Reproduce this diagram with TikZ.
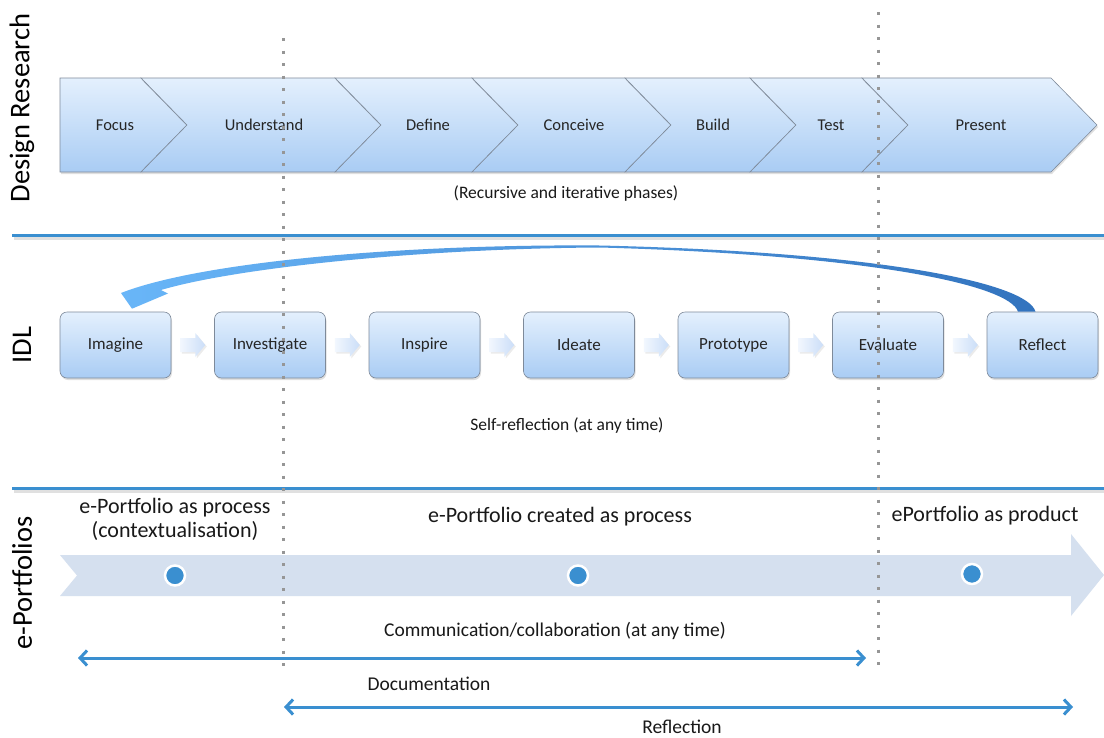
\documentclass[tikz,border=0pt]{standalone}
\usepackage{fontspec}
\setmainfont{Carlito}
\usetikzlibrary{arrows.meta,calc,shadows}
\definecolor{sepblue}{RGB}{58,143,208}
\definecolor{chevtop}{RGB}{228,240,253}
\definecolor{chevbot}{RGB}{169,204,244}
\definecolor{chevline}{RGB}{126,138,154}
\definecolor{bandcol}{RGB}{213,224,239}
\definecolor{dotgray}{RGB}{150,150,150}
\definecolor{curveL}{RGB}{105,182,248}
\definecolor{curveR}{RGB}{50,115,190}
\definecolor{arrL}{RGB}{242,247,254}
\definecolor{arrR}{RGB}{203,222,248}
\tikzset{
  chev/.style={draw=chevline, line width=0.6pt, top color=chevtop, bottom color=chevbot,
    drop shadow={opacity=0.25, shadow xshift=1pt, shadow yshift=-2pt}},
  chevtext/.style={font=\fontsize{16.5}{19}\selectfont, text=black!85},
  idlbox/.style={draw=chevline, line width=0.6pt, rounded corners=7pt, top color=chevtop, bottom color=chevbot,
    minimum width=111pt, minimum height=66pt, inner sep=0pt, font=\fontsize{17}{20}\selectfont, text=black!85,
    drop shadow={opacity=0.25, shadow xshift=1pt, shadow yshift=-2pt}},
  smallarr/.pic={
    \fill[black, opacity=0.08] (-11,-5.5) -- (4,-5.5) -- (4,-10.5) -- (14,1.5) -- (4,13.5) -- (4,8.5) -- (-11,8.5) -- cycle;
    \shade[left color=arrL, right color=arrR] (-12.5,-7) -- (2.5,-7) -- (2.5,-12) -- (12.5,0) -- (2.5,12) -- (2.5,7) -- (-12.5,7) -- cycle;
  },
  sepline/.style={draw=sepblue, line width=3pt},
  sepshadow/.style={draw=black, opacity=0.12, line width=3pt},
  sidelabel/.style={rotate=90, font=\fontsize{28.5}{32}\selectfont, text=black},
  captext/.style={font=\fontsize{17.5}{20}\selectfont, text=black!90},
  bigtext/.style={font=\fontsize{22}{26}\selectfont, text=black!90, align=center},
  midtext/.style={font=\fontsize{19.5}{23}\selectfont, text=black!90},
  dottedline/.style={draw=dotgray, line width=3pt, dash pattern=on 3pt off 9.5pt},
  spanarrow/.style={draw=sepblue, line width=3pt, {Straight Barb[length=7pt,width=15pt]}-{Straight Barb[length=7pt,width=15pt]}},
  milestone/.style={circle, fill=sepblue, draw=white, line width=2.5pt, minimum size=20pt, inner sep=0pt},
}
\begin{document}
\begin{tikzpicture}[x=1pt,y=-1pt]
\useasboundingbox (0,0) rectangle (1104,737);
\fill[white] (0,0) rectangle (1104,737);

% side labels
\node[sidelabel] (lDR) at (22,108) {Design Research};
\node[sidelabel] (lIDL) at (22,345) {IDL};
\node[sidelabel] (lEP) at (22,583) {e-Portfolios};

% separators
\draw[sepshadow] (14,238) -- (1104,238);
\draw[sepline] (12,235) -- (1104,235);
\draw[sepshadow] (14,491) -- (1104,491);
\draw[sepline] (12,488) -- (1104,488);

% Design research chevrons
\path[chev] (60,78) -- (141,78) -- (187,125) -- (141,172) -- (60,172) -- cycle;
\path[chev] (141,78) -- (335,78) -- (381,125) -- (335,172) -- (141,172) -- (187,125) -- cycle;
\path[chev] (335,78) -- (472,78) -- (518,125) -- (472,172) -- (335,172) -- (381,125) -- cycle;
\path[chev] (472,78) -- (625,78) -- (671,125) -- (625,172) -- (472,172) -- (518,125) -- cycle;
\path[chev] (625,78) -- (750,78) -- (796,125) -- (750,172) -- (625,172) -- (671,125) -- cycle;
\path[chev] (750,78) -- (862,78) -- (908,125) -- (862,172) -- (750,172) -- (796,125) -- cycle;
\path[chev] (862,78) -- (1051,78) -- (1097,125) -- (1051,172) -- (862,172) -- (908,125) -- cycle;
\node[chevtext] (cFocus) at (115,125) {Focus};
\node[chevtext] (cUnder) at (264,125) {Understand};
\node[chevtext] (cDefine) at (428,125) {Define};
\node[chevtext] (cConceive) at (574,125) {Conceive};
\node[chevtext] (cBuild) at (713,125) {Build};
\node[chevtext] (cTest) at (831,125) {Test};
\node[chevtext] (cPresent) at (981,125) {Present};
\node[captext] (cap1) at (566,194) {(Recursive and iterative phases)};

% IDL boxes
\node[idlbox] (b1) at (115.5,345) {Imagine};
\node[idlbox] (b2) at (270,345) {Investigate};
\node[idlbox] (b3) at (424.5,345) {Inspire};
\node[idlbox] (b4) at (579,345) {Ideate};
\node[idlbox] (b5) at (733.5,345) {Prototype};
\node[idlbox] (b6) at (888,345) {Evaluate};
\node[idlbox] (b7) at (1042.5,345) {Reflect};
\foreach \a/\b in {b1/b2,b2/b3,b3/b4,b4/b5,b5/b6,b6/b7}
  \path ($(\a.east)!0.5!(\b.west)$) pic {smallarr};

% curved return arrow Reflect -> Imagine
\coordinate (rA) at ($(b7.north)+(-7,0)$);
\coordinate (rB) at ($(b7.north)+(-24.5,0)$);
\coordinate (hT) at ($(b1.north)+(16.5,-3)$);
\shade[left color=curveL, right color=curveR]
  (rA) .. controls (1028,283) and (880,252) .. (600,245.5)
       .. controls (400,244) and (200,262) .. (121,293)
  -- (hT) -- (168,293.5) -- (161,290)
  .. controls (235,268) and (420,248.5) .. (600,247.5)
       .. controls (870,255) and (1010,285) .. (rB) -- cycle;
\node[captext] (selfref) at (567,426) {Self-reflection (at any time)};

% e-portfolio band
\fill[bandcol] (60,555) -- (1071,555) -- (1071,534) -- (1104,575) -- (1071,616) -- (1071,596) -- (60,596) -- (77,575.5) -- cycle;
\node[milestone] (m1) at (175,575.5) {};
\node[milestone] (m2) at (578,575.5) {};
\node[milestone] (m3) at (972,574) {};
\node[bigtext] (t1) at (175,519) {e-Portfolio as process\\[-2pt](contextualisation)};
\node[bigtext] (t2) at (560,517) {e-Portfolio created as process};
\node[bigtext] (t3) at (985,516) {ePortfolio as product};

% spans
\coordinate (s1a) at (78,658);
\coordinate (s1b) at (866,658);
\coordinate (s2a) at (284,707);
\coordinate (s2b) at (1073,707);
\node[midtext] (comm) at (555,631) {Communication/collaboration (at any time)};
\draw[spanarrow] (s1a) -- (s1b);
\node[midtext] (doc) at (429,684) {Documentation};
\draw[spanarrow] (s2a) -- (s2b);
\node[midtext] (refl) at (682,727) {Reflection};

% dotted guides
\coordinate (d1t) at (283,38);
\coordinate (d1b) at (283,668);
\coordinate (d2t) at (878,12);
\coordinate (d2b) at (878,668);
\draw[dottedline] (d1t) -- (d1b);
\draw[dottedline] (d2t) -- (d2b);
\end{tikzpicture}
\end{document}
